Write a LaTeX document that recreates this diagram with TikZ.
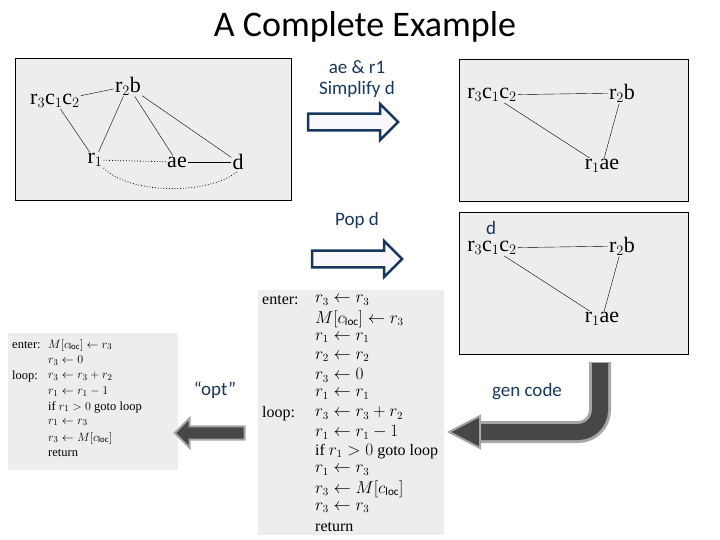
\documentclass[tikz,border=0pt]{standalone}
\usepackage{fontspec}
\setmainfont{Carlito}
\newfontfamily\tms{Liberation Serif}
\usetikzlibrary{shapes.arrows}
\definecolor{dblue}{HTML}{17375E}
\definecolor{scan}{HTML}{EDEDED}
\begin{document}
\begin{tikzpicture}[x=1pt,y=-1pt,
  box/.style={draw=black,fill=scan,line width=0.6pt},
  g/.style={font=\tms\fontsize{22}{22}\selectfont,inner sep=1pt},
  lab/.style={font=\fontsize{19}{21}\selectfont,text=dblue},
  cd/.style={font=\tms\fontsize{16}{16}\selectfont,anchor=west,inner sep=0pt},
  cs/.style={font=\tms\fontsize{12.5}{12.5}\selectfont,anchor=west,inner sep=0pt},
  rarr/.style={single arrow,draw=dblue,line width=2.5pt,fill=scan!80!blue!10,minimum height=90pt,minimum width=36pt,single arrow head extend=6pt,inner sep=4pt}]
\useasboundingbox (0,0) rectangle (720,540);
\node[font=\fontsize{36}{36}\selectfont] (title) at (365,27) {A Complete Example};
% box 1
\draw[box] (15,58) rectangle (291,200);
\node[g] (a1) at (55,101) {r$_3$c$_1$c$_2$};
\node[g] (a2) at (128,86) {r$_2$b};
\node[g] (a3) at (95,160) {r$_1$};
\node[g] (a4) at (177,162) {ae};
\node[g] (a5) at (238,162) {d};
\draw (a1) -- (a2); \draw (a1) -- (a3); \draw (a2) -- (a3);
\draw (a2) -- (a4); \draw (a2) -- (a5); \draw (a4) -- (a5);
\draw[dotted,thick] (a3) -- (a4);
\draw[dotted,thick] (a3.south east) .. controls (130,195) and (210,195) .. (a5.south);
% labels and arrows
\node[lab,align=center] (l1) at (357,79) {ae \& r1\\Simplify d};
\node[rarr] (ar1) at (349,122) {};
\node[lab] (l2) at (357,220) {Pop d};
\node[rarr] (ar2) at (353,259) {};
% box 2
\draw[box] (459,59) rectangle (688,201);
\node[g] (b1) at (492,95) {r$_3$c$_1$c$_2$};
\node[g] (b2) at (622,93) {r$_2$b};
\node[g] (b3) at (602,166) {r$_1$ae};
\draw (b1) -- (b2); \draw (b1) -- (b3); \draw (b2) -- (b3);
% box 3
\draw[box] (459,212) rectangle (688,354);
\node[lab] (dd) at (491,228) {d};
\node[g] (c1) at (492,248) {r$_3$c$_1$c$_2$};
\node[g] (c2) at (622,246) {r$_2$b};
\node[g] (c3) at (602,319) {r$_1$ae};
\draw (c1) -- (c2); \draw (c1) -- (c3); \draw (c2) -- (c3);
% big code
\fill[scan] (258,290) rectangle (444,535);
\foreach \i/\t in {0/{$r_3\leftarrow r_3$},1/{$M[c_{\mathrm{loc}}]\leftarrow r_3$},2/{$r_1\leftarrow r_1$},3/{$r_2\leftarrow r_2$},4/{$r_3\leftarrow 0$},5/{$r_1\leftarrow r_1$},6/{$r_3\leftarrow r_3+r_2$},7/{$r_1\leftarrow r_1-1$},8/{if $r_1>0$ goto loop},9/{$r_1\leftarrow r_3$},10/{$r_3\leftarrow M[c_{\mathrm{loc}}]$},11/{$r_3\leftarrow r_3$},12/{return}}
  \node[cd] (bc\i) at (315,{300+\i*18.9}) {\t};
\node[cd] (bl1) at (262,300) {enter:};
\node[cd] (bl2) at (262,413.4) {loop:};
% small code
\fill[scan] (8,333) rectangle (178,470);
\foreach \i/\t in {0/{$M[c_{\mathrm{loc}}]\leftarrow r_3$},1/{$r_3\leftarrow 0$},2/{$r_3\leftarrow r_3+r_2$},3/{$r_1\leftarrow r_1-1$},4/{if $r_1>0$ goto loop},5/{$r_1\leftarrow r_3$},6/{$r_3\leftarrow M[c_{\mathrm{loc}}]$},7/{return}}
  \node[cs] (sc\i) at (48,{345+\i*15.5}) {\t};
\node[cs] (sl1) at (12,345) {enter:};
\node[cs] (sl2) at (12,376) {loop:};
% opt arrow
\node[lab] (opt) at (215,390) {``opt''};
\node[single arrow,shape border rotate=180,fill=black!72,draw=black!35,line width=2pt,minimum height=70pt,minimum width=30pt,single arrow head extend=5pt,inner sep=3pt] (ar3) at (213,433) {};
% gen code arrow
\node[lab] (gc) at (527,392) {gen code};
\coordinate (gs) at (600,362);
\coordinate (ge) at (478,432);
\draw[black!35,line width=22pt] (gs) -- (600,410) arc (0:90:22) -- (ge);
\draw[black!72,line width=16pt] (600,363) -- (600,410) arc (0:90:22) -- (ge);
\fill[black!72,draw=black!35,line width=2pt] (480,416) -- (449,432) -- (480,448) -- cycle;
\end{tikzpicture}
\end{document}
